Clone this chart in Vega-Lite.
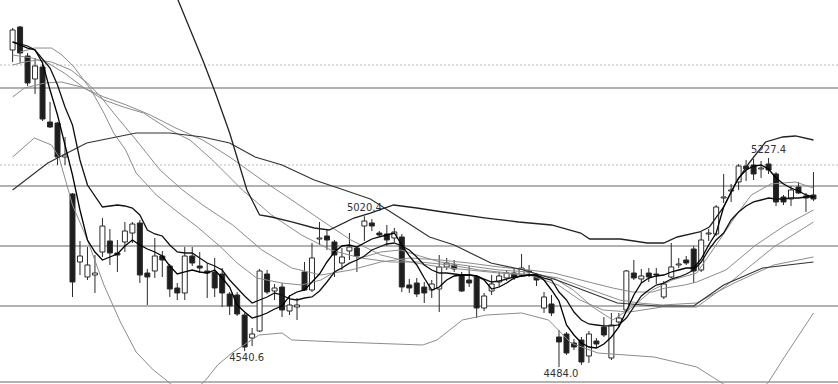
{
"$schema": "https://vega.github.io/schema/vega-lite/v6.json",
"width": 838, "height": 384, "padding": 0, "autosize": {"type": "none"},
"background": "white",
"config": {"view": {"stroke": null}},
"datasets": {
"grid": [{"p":5476.3},{"p":5127.8},{"p":4914.4},{"p":4701.0},{"p":4430.6}],
"dots": [{"p":5558.2},{"p":5202.5}],
"candles": [
{"i":0,"o":5611.6,"h":5689.8,"l":5568.9,"c":5682.7},
{"i":1,"o":5693.4,"h":5696.9,"l":5565.3,"c":5600.9},
{"i":2,"o":5590.2,"h":5600.9,"l":5483.5,"c":5494.2},
{"i":3,"o":5508.4,"h":5583.1,"l":5455.0,"c":5554.6},
{"i":4,"o":5551.1,"h":5561.8,"l":5359.0,"c":5366.1},
{"i":5,"o":5355.4,"h":5426.6,"l":5334.1,"c":5337.7},
{"i":6,"o":5351.9,"h":5355.4,"l":5202.5,"c":5231.0},
{"i":7,"o":5231.0,"h":5302.1,"l":5202.5,"c":5238.1},
{"i":8,"o":5099.3,"h":5102.9,"l":4733.0,"c":4786.3},
{"i":9,"o":4857.5,"h":4932.2,"l":4811.2,"c":4878.8},
{"i":10,"o":4804.1,"h":4910.8,"l":4793.4,"c":4846.8},
{"i":11,"o":4811.2,"h":4882.4,"l":4747.2,"c":4818.3},
{"i":12,"o":4893.0,"h":5014.0,"l":4875.3,"c":4985.5},
{"i":13,"o":4932.2,"h":4974.8,"l":4846.8,"c":4889.5},
{"i":14,"o":4889.5,"h":4935.7,"l":4821.9,"c":4882.4},
{"i":15,"o":4928.6,"h":4999.8,"l":4893.0,"c":4967.7},
{"i":16,"o":4960.6,"h":4999.8,"l":4925.0,"c":4992.6},
{"i":17,"o":4996.2,"h":5006.9,"l":4782.8,"c":4811.2},
{"i":18,"o":4818.3,"h":4832.6,"l":4704.5,"c":4804.1},
{"i":19,"o":4825.5,"h":4942.8,"l":4800.6,"c":4878.8},
{"i":20,"o":4878.8,"h":4896.6,"l":4804.1,"c":4864.6},
{"i":21,"o":4843.2,"h":4850.4,"l":4733.0,"c":4761.4},
{"i":22,"o":4765.0,"h":4782.8,"l":4722.3,"c":4747.2},
{"i":23,"o":4747.2,"h":4910.8,"l":4722.3,"c":4878.8},
{"i":24,"o":4878.8,"h":4910.8,"l":4843.2,"c":4853.9},
{"i":25,"o":4843.2,"h":4893.0,"l":4818.3,"c":4836.1},
{"i":26,"o":4825.5,"h":4853.9,"l":4729.4,"c":4818.3},
{"i":27,"o":4821.9,"h":4871.7,"l":4733.0,"c":4765.0},
{"i":28,"o":4814.8,"h":4836.1,"l":4697.4,"c":4747.2},
{"i":29,"o":4743.6,"h":4750.8,"l":4668.9,"c":4701.0},
{"i":30,"o":4740.1,"h":4750.8,"l":4665.4,"c":4672.5},
{"i":31,"o":4668.9,"h":4676.1,"l":4540.6,"c":4555.1},
{"i":32,"o":4587.1,"h":4622.7,"l":4558.7,"c":4601.4},
{"i":33,"o":4612.0,"h":4832.6,"l":4608.5,"c":4825.5},
{"i":34,"o":4814.8,"h":4829.0,"l":4743.6,"c":4750.8},
{"i":35,"o":4754.3,"h":4779.2,"l":4722.3,"c":4765.0},
{"i":36,"o":4768.5,"h":4782.8,"l":4661.8,"c":4686.7},
{"i":37,"o":4683.2,"h":4740.1,"l":4668.9,"c":4704.5},
{"i":38,"o":4697.4,"h":4729.4,"l":4651.2,"c":4704.5},
{"i":39,"o":4821.9,"h":4857.5,"l":4754.3,"c":4757.9},
{"i":40,"o":4757.9,"h":4925.0,"l":4750.8,"c":4871.7},
{"i":41,"o":4939.3,"h":4999.8,"l":4917.9,"c":4942.8},
{"i":42,"o":4950.0,"h":4971.3,"l":4900.1,"c":4935.7},
{"i":43,"o":4928.6,"h":4935.7,"l":4804.1,"c":4882.4},
{"i":44,"o":4853.9,"h":4907.3,"l":4829.0,"c":4875.3},
{"i":45,"o":4896.6,"h":4960.6,"l":4864.6,"c":4910.8},
{"i":46,"o":4907.3,"h":4914.4,"l":4821.9,"c":4878.8},
{"i":47,"o":4985.5,"h":5020.4,"l":4932.2,"c":5003.3},
{"i":48,"o":4996.2,"h":5010.4,"l":4967.7,"c":4985.5},
{"i":49,"o":4960.6,"h":4967.7,"l":4946.4,"c":4953.5},
{"i":50,"o":4957.1,"h":4989.1,"l":4914.4,"c":4935.7},
{"i":51,"o":4942.8,"h":4978.4,"l":4928.6,"c":4964.2},
{"i":52,"o":4946.4,"h":4957.1,"l":4750.8,"c":4768.5},
{"i":53,"o":4775.7,"h":4797.0,"l":4747.2,"c":4765.0},
{"i":54,"o":4782.8,"h":4800.6,"l":4733.0,"c":4743.6},
{"i":55,"o":4768.5,"h":4786.3,"l":4711.6,"c":4747.2},
{"i":56,"o":4757.9,"h":4793.4,"l":4729.4,"c":4779.2},
{"i":57,"o":4761.4,"h":4882.4,"l":4679.6,"c":4839.7},
{"i":58,"o":4839.7,"h":4871.7,"l":4829.0,"c":4853.9},
{"i":59,"o":4846.8,"h":4864.6,"l":4821.9,"c":4832.6},
{"i":60,"o":4811.2,"h":4821.9,"l":4750.8,"c":4754.3},
{"i":61,"o":4793.4,"h":4843.2,"l":4768.5,"c":4782.8},
{"i":62,"o":4804.1,"h":4811.2,"l":4658.3,"c":4693.8},
{"i":63,"o":4693.8,"h":4747.2,"l":4683.2,"c":4736.5},
{"i":64,"o":4754.3,"h":4811.2,"l":4740.1,"c":4779.2},
{"i":65,"o":4786.3,"h":4821.9,"l":4768.5,"c":4807.7},
{"i":66,"o":4800.6,"h":4829.0,"l":4789.9,"c":4818.3},
{"i":67,"o":4818.3,"h":4836.1,"l":4793.4,"c":4804.1},
{"i":68,"o":4811.2,"h":4885.9,"l":4804.1,"c":4836.1},
{"i":69,"o":4825.5,"h":4846.8,"l":4804.1,"c":4821.9},
{"i":70,"o":4807.7,"h":4818.3,"l":4772.1,"c":4793.4},
{"i":71,"o":4693.8,"h":4750.8,"l":4676.1,"c":4733.0},
{"i":72,"o":4708.1,"h":4740.1,"l":4665.4,"c":4676.1},
{"i":73,"o":4590.7,"h":4615.6,"l":4484.0,"c":4572.9},
{"i":74,"o":4601.4,"h":4608.5,"l":4526.7,"c":4533.8},
{"i":75,"o":4569.4,"h":4583.6,"l":4544.4,"c":4555.1},
{"i":76,"o":4580.0,"h":4590.7,"l":4491.1,"c":4501.8},
{"i":77,"o":4523.1,"h":4612.0,"l":4498.2,"c":4601.4},
{"i":78,"o":4576.5,"h":4587.1,"l":4551.6,"c":4565.8},
{"i":79,"o":4626.3,"h":4661.8,"l":4590.7,"c":4597.8},
{"i":80,"o":4516.0,"h":4676.1,"l":4508.9,"c":4633.4},
{"i":81,"o":4644.0,"h":4676.1,"l":4626.3,"c":4658.3},
{"i":82,"o":4686.7,"h":4829.0,"l":4679.6,"c":4825.5},
{"i":83,"o":4818.3,"h":4864.6,"l":4793.4,"c":4800.6},
{"i":84,"o":4797.0,"h":4832.6,"l":4782.8,"c":4807.7},
{"i":85,"o":4818.3,"h":4836.1,"l":4786.3,"c":4804.1},
{"i":86,"o":4814.8,"h":4836.1,"l":4779.2,"c":4811.2},
{"i":87,"o":4733.0,"h":4789.9,"l":4725.9,"c":4779.2},
{"i":88,"o":4804.1,"h":4925.0,"l":4800.6,"c":4839.7},
{"i":89,"o":4846.8,"h":4871.7,"l":4836.1,"c":4850.4},
{"i":90,"o":4864.6,"h":4878.8,"l":4846.8,"c":4853.9},
{"i":91,"o":4903.7,"h":4914.4,"l":4782.8,"c":4825.5},
{"i":92,"o":4829.0,"h":4964.2,"l":4821.9,"c":4935.7},
{"i":93,"o":4957.1,"h":4974.8,"l":4932.2,"c":4960.6},
{"i":94,"o":4957.1,"h":5060.2,"l":4950.0,"c":5053.1},
{"i":95,"o":5085.1,"h":5170.5,"l":5067.3,"c":5088.7},
{"i":96,"o":5110.0,"h":5134.9,"l":5070.9,"c":5113.6},
{"i":97,"o":5142.0,"h":5206.1,"l":5113.6,"c":5198.9},
{"i":98,"o":5198.9,"h":5220.3,"l":5145.6,"c":5188.3},
{"i":99,"o":5202.5,"h":5223.8,"l":5149.1,"c":5170.5},
{"i":100,"o":5188.3,"h":5216.7,"l":5156.3,"c":5191.8},
{"i":101,"o":5206.1,"h":5227.4,"l":5170.5,"c":5184.7},
{"i":102,"o":5170.5,"h":5177.6,"l":5056.7,"c":5070.9},
{"i":103,"o":5088.7,"h":5095.8,"l":5060.2,"c":5070.9},
{"i":104,"o":5081.6,"h":5127.8,"l":5056.7,"c":5113.6},
{"i":105,"o":5124.2,"h":5142.0,"l":5099.3,"c":5102.9},
{"i":106,"o":5092.2,"h":5102.9,"l":5035.3,"c":5085.1},
{"i":107,"o":5095.8,"h":5177.6,"l":5074.5,"c":5081.6}
],
"ma5": [
{"i":0,"v":5640.0},{"i":1,"v":5629.3},{"i":2,"v":5618.6},{"i":3,"v":5611.6},{"i":4,"v":5565.3},{"i":5,"v":5469.3},{"i":6,"v":5380.3},{"i":7,"v":5273.6},{"i":8,"v":5166.9},{"i":9,"v":5042.4},
{"i":10,"v":4935.7},{"i":11,"v":4893.1},{"i":12,"v":4864.6},{"i":13,"v":4875.3},{"i":14,"v":4886.0},{"i":15,"v":4914.4},{"i":16,"v":4935.7},{"i":17,"v":4917.9},{"i":18,"v":4903.7},{"i":19,"v":4893.1},
{"i":20,"v":4878.9},{"i":21,"v":4843.3},{"i":22,"v":4814.8},{"i":23,"v":4821.9},{"i":24,"v":4829.0},{"i":25,"v":4821.9},{"i":26,"v":4818.3},{"i":27,"v":4829.0},{"i":28,"v":4800.5},{"i":29,"v":4768.5},
{"i":30,"v":4704.5},{"i":31,"v":4679.6},{"i":32,"v":4658.2},{"i":33,"v":4665.4},{"i":34,"v":4676.0},{"i":35,"v":4690.3},{"i":36,"v":4701.0},{"i":37,"v":4736.6},{"i":38,"v":4750.8},{"i":39,"v":4757.9},
{"i":40,"v":4786.3},{"i":41,"v":4814.8},{"i":42,"v":4857.5},{"i":43,"v":4893.1},{"i":44,"v":4914.4},{"i":45,"v":4917.9},{"i":46,"v":4910.8},{"i":47,"v":4925.0},{"i":48,"v":4939.3},{"i":49,"v":4946.4},
{"i":50,"v":4953.5},{"i":51,"v":4960.6},{"i":52,"v":4917.9},{"i":53,"v":4878.9},{"i":54,"v":4846.8},{"i":55,"v":4800.5},{"i":56,"v":4757.9},{"i":57,"v":4768.5},{"i":58,"v":4793.4},{"i":59,"v":4807.7},
{"i":60,"v":4811.2},{"i":61,"v":4811.2},{"i":62,"v":4807.7},{"i":63,"v":4793.4},{"i":64,"v":4761.4},{"i":65,"v":4768.5},{"i":66,"v":4782.7},{"i":67,"v":4800.5},{"i":68,"v":4807.7},{"i":69,"v":4811.2},
{"i":70,"v":4811.2},{"i":71,"v":4793.4},{"i":72,"v":4757.9},{"i":73,"v":4718.7},{"i":74,"v":4633.4},{"i":75,"v":4597.8},{"i":76,"v":4569.3},{"i":77,"v":4555.1},{"i":78,"v":4551.5},{"i":79,"v":4565.8},
{"i":80,"v":4590.7},{"i":81,"v":4626.3},{"i":82,"v":4683.1},{"i":83,"v":4740.1},{"i":84,"v":4782.7},{"i":85,"v":4800.5},{"i":86,"v":4807.7},{"i":87,"v":4811.2},{"i":88,"v":4821.9},{"i":89,"v":4829.0},
{"i":90,"v":4836.1},{"i":91,"v":4836.1},{"i":92,"v":4868.1},{"i":93,"v":4917.9},{"i":94,"v":4960.6},{"i":95,"v":5053.1},{"i":96,"v":5106.5},{"i":97,"v":5156.3},{"i":98,"v":5184.7},{"i":99,"v":5198.9},
{"i":100,"v":5202.5},{"i":101,"v":5188.3},{"i":102,"v":5156.3},{"i":103,"v":5134.9},{"i":104,"v":5120.6},{"i":105,"v":5110.0},{"i":106,"v":5095.8},{"i":107,"v":5088.7}
],
"ma10": [
{"i":0,"v":5640.0},{"i":2,"v":5625.8},{"i":3,"v":5611.6},{"i":5,"v":5547.5},{"i":6,"v":5487.0},{"i":7,"v":5408.8},{"i":8,"v":5344.8},{"i":9,"v":5220.3},
{"i":10,"v":5131.3},{"i":12,"v":5053.1},{"i":13,"v":5056.7},{"i":14,"v":5060.2},{"i":15,"v":5056.7},{"i":16,"v":5049.5},{"i":17,"v":5024.6},{"i":18,"v":4971.3},{"i":19,"v":4957.1},
{"i":20,"v":4950.0},{"i":21,"v":4917.9},{"i":22,"v":4893.1},{"i":23,"v":4889.5},{"i":24,"v":4889.5},{"i":25,"v":4871.7},{"i":26,"v":4853.9},{"i":27,"v":4843.3},{"i":28,"v":4829.0},{"i":29,"v":4793.4},
{"i":30,"v":4764.9},{"i":31,"v":4736.6},{"i":32,"v":4711.6},{"i":33,"v":4722.3},{"i":34,"v":4733.0},{"i":35,"v":4747.2},{"i":36,"v":4740.1},{"i":37,"v":4725.9},{"i":38,"v":4722.3},{"i":39,"v":4729.4},
{"i":40,"v":4733.0},{"i":41,"v":4754.3},{"i":42,"v":4786.3},{"i":43,"v":4821.9},{"i":44,"v":4836.1},{"i":45,"v":4853.9},{"i":46,"v":4864.6},{"i":47,"v":4878.9},{"i":48,"v":4900.2},{"i":49,"v":4910.8},
{"i":50,"v":4921.5},{"i":51,"v":4925.0},{"i":52,"v":4914.4},{"i":53,"v":4900.2},{"i":54,"v":4875.3},{"i":55,"v":4846.8},{"i":56,"v":4829.0},{"i":57,"v":4818.3},{"i":58,"v":4818.3},{"i":59,"v":4814.8},
{"i":60,"v":4811.2},{"i":61,"v":4811.2},{"i":62,"v":4807.7},{"i":63,"v":4796.9},{"i":64,"v":4786.3},{"i":65,"v":4789.9},{"i":66,"v":4796.9},{"i":67,"v":4804.1},{"i":68,"v":4807.7},{"i":69,"v":4811.2},
{"i":70,"v":4811.2},{"i":71,"v":4800.5},{"i":72,"v":4793.4},{"i":73,"v":4750.8},{"i":74,"v":4722.3},{"i":75,"v":4679.6},{"i":76,"v":4651.2},{"i":77,"v":4637.0},{"i":78,"v":4633.4},{"i":79,"v":4629.9},
{"i":80,"v":4629.9},{"i":81,"v":4633.4},{"i":82,"v":4658.2},{"i":83,"v":4697.4},{"i":84,"v":4736.6},{"i":85,"v":4757.9},{"i":86,"v":4775.6},{"i":87,"v":4782.7},{"i":88,"v":4796.9},{"i":89,"v":4804.1},
{"i":90,"v":4814.8},{"i":91,"v":4829.0},{"i":92,"v":4857.5},{"i":93,"v":4900.2},{"i":94,"v":4935.7},{"i":95,"v":4960.6},{"i":96,"v":5006.9},{"i":97,"v":5035.3},{"i":98,"v":5056.7},{"i":99,"v":5071.0},
{"i":100,"v":5078.0},{"i":101,"v":5085.1},{"i":102,"v":5081.6},{"i":103,"v":5081.6},{"i":104,"v":5085.1},{"i":105,"v":5085.1},{"i":106,"v":5088.7},{"i":107,"v":5088.7}
],
"long": [
{"i":0,"v":5113.6},{"i":4.7,"v":5209.6},{"i":9.9,"v":5280.7},{"i":16.5,"v":5316.3},{"i":21,"v":5316.3},{"i":25.4,"v":5302.1},{"i":29,"v":5280.7},{"i":32.4,"v":5231.0},{"i":36,"v":5202.5},{"i":40.3,"v":5149.1},
{"i":43.5,"v":5120.6},{"i":47.8,"v":5081.6},{"i":52.2,"v":5006.9},{"i":55.7,"v":4946.4},{"i":59,"v":4917.9},{"i":63.9,"v":4853.9},{"i":68.3,"v":4829.0},{"i":72.7,"v":4793.4},{"i":76.9,"v":4750.8},{"i":80.8,"v":4711.6},
{"i":86.1,"v":4701.0},{"i":91,"v":4701.0},{"i":95,"v":4775.6},{"i":100.2,"v":4836.1},{"i":107,"v":4857.5}
],
"upper": [
{"i":20,"v":5924.6},{"i":22.1,"v":5789.4},{"i":25.4,"v":5576.0},{"i":27.1,"v":5458.6},{"i":29,"v":5316.3},{"i":30.7,"v":5166.9},{"i":31.3,"v":5113.6},{"i":33,"v":5024.6},{"i":34.6,"v":5017.5},{"i":37.3,"v":4999.8},
{"i":40.3,"v":4978.4},{"i":42.3,"v":4971.3},{"i":45.6,"v":5013.9},{"i":47.8,"v":5031.7},{"i":50.9,"v":5060.2},{"i":54,"v":5049.5},{"i":57.5,"v":5035.3},{"i":63.3,"v":5013.9},{"i":67.6,"v":4999.8},{"i":72,"v":4989.1},
{"i":75.9,"v":4960.6},{"i":77.1,"v":4939.3},{"i":81.2,"v":4939.3},{"i":84.8,"v":4925.0},{"i":87,"v":4925.0},{"i":88.8,"v":4946.4},{"i":91.8,"v":4964.2},{"i":93.1,"v":4982.0},{"i":95,"v":5053.1},{"i":96.7,"v":5142.0},
{"i":98.4,"v":5209.6},{"i":100.6,"v":5284.3},{"i":102.9,"v":5302.1},{"i":104.6,"v":5305.7},{"i":107,"v":5291.4}
],
"lower": [
{"i":0,"v":5231.0},{"i":2.9,"v":5298.5},{"i":5.2,"v":5273.6},{"i":6.2,"v":5231.0},{"i":8,"v":5060.2},{"i":10,"v":4935.7},{"i":12.2,"v":4775.6},{"i":14.4,"v":4644.1},{"i":16.5,"v":4537.3},{"i":18.8,"v":4473.3},
{"i":20.5,"v":4437.7},{"i":22.1,"v":4402.2},{"i":24.1,"v":4395.1},{"i":25.8,"v":4437.7},{"i":27.4,"v":4491.1},{"i":29.3,"v":4533.7},{"i":32.9,"v":4597.8},{"i":36,"v":4604.9},{"i":37.3,"v":4580.0},{"i":43.5,"v":4572.9},
{"i":54.8,"v":4562.2},{"i":56.7,"v":4580.0},{"i":60.1,"v":4651.2},{"i":63.3,"v":4668.9},{"i":68,"v":4676.0},{"i":71.6,"v":4651.2},{"i":74.6,"v":4569.3},{"i":78.2,"v":4533.7},{"i":85.7,"v":4519.5},{"i":91.4,"v":4484.0},
{"i":95,"v":4423.5},{"i":98,"v":4366.6},{"i":99.3,"v":4384.4},{"i":101,"v":4430.6},{"i":103.3,"v":4526.6},{"i":107,"v":4676.0}
],
"g1": [
{"i":1,"v":5604.5},{"i":2.9,"v":5618.6},{"i":5.2,"v":5618.6},{"i":6.6,"v":5593.8},{"i":8.2,"v":5551.1},{"i":10.5,"v":5469.3},{"i":12.2,"v":5387.4},{"i":13.5,"v":5316.3},{"i":15.1,"v":5255.9},{"i":16.5,"v":5174.0},
{"i":19.2,"v":5095.8},{"i":21.7,"v":5042.4},{"i":24.7,"v":4982.0},{"i":27.8,"v":4910.8},{"i":30,"v":4853.9},{"i":32.6,"v":4800.5},{"i":36,"v":4782.7},{"i":38.6,"v":4775.6},{"i":41.2,"v":4793.4},{"i":43.9,"v":4836.1},
{"i":46.5,"v":4871.7},{"i":49.2,"v":4893.1},{"i":51.8,"v":4900.2},{"i":54.4,"v":4878.9},{"i":57.1,"v":4857.5},{"i":61,"v":4843.3},{"i":65,"v":4829.0},{"i":69,"v":4821.9},{"i":72.3,"v":4800.5},{"i":74.9,"v":4757.9},
{"i":77.5,"v":4697.4},{"i":80.2,"v":4651.2},{"i":82.8,"v":4697.4},{"i":85.5,"v":4757.9},{"i":88.1,"v":4793.4},{"i":91.4,"v":4818.3},{"i":94,"v":4917.9},{"i":96.7,"v":5024.6},{"i":98.7,"v":5095.8},{"i":101.3,"v":5134.9},
{"i":104.6,"v":5142.0},{"i":107,"v":5120.6}
],
"g2": [
{"i":0,"v":5558.2},{"i":1.6,"v":5568.9},{"i":3.3,"v":5576.0},{"i":5.2,"v":5568.9},{"i":7.8,"v":5540.4},{"i":10,"v":5494.1},{"i":11.8,"v":5444.4},{"i":13.5,"v":5387.4},{"i":16.5,"v":5291.4},{"i":19.7,"v":5184.7},
{"i":22.7,"v":5113.6},{"i":25.4,"v":5060.2},{"i":29.4,"v":4989.1},{"i":33.3,"v":4900.2},{"i":37.3,"v":4836.1},{"i":41.2,"v":4811.2},{"i":45.2,"v":4829.0},{"i":49.2,"v":4857.5},{"i":53.1,"v":4871.7},{"i":57.1,"v":4864.6},
{"i":61,"v":4853.9},{"i":65,"v":4839.7},{"i":69,"v":4829.0},{"i":72.3,"v":4818.3},{"i":74.9,"v":4800.5},{"i":77.5,"v":4782.7},{"i":80.2,"v":4764.9},{"i":82.8,"v":4750.8},{"i":85.5,"v":4750.8},{"i":87.2,"v":4764.9},
{"i":89.8,"v":4775.6},{"i":91.4,"v":4786.3},{"i":95.3,"v":4829.0},{"i":99.3,"v":4917.9},{"i":103.3,"v":4989.1},{"i":107,"v":5042.4}
],
"g3": [
{"i":0,"v":5593.8},{"i":2.6,"v":5583.1},{"i":4.7,"v":5565.3},{"i":6.9,"v":5529.7},{"i":9.4,"v":5479.9},{"i":12.2,"v":5433.7},{"i":14.8,"v":5408.8},{"i":17.5,"v":5387.4},{"i":21,"v":5327.0},{"i":23.7,"v":5291.4},
{"i":26.7,"v":5220.3},{"i":30.7,"v":5113.6},{"i":34.6,"v":5024.6},{"i":38.6,"v":4953.5},{"i":42.5,"v":4900.2},{"i":46.5,"v":4871.7},{"i":50.5,"v":4857.5},{"i":54.4,"v":4857.5},{"i":58.4,"v":4846.8},{"i":62.4,"v":4829.0},
{"i":66.3,"v":4818.3},{"i":70.3,"v":4811.2},{"i":72.9,"v":4800.5},{"i":76.6,"v":4764.9},{"i":81.1,"v":4722.3},{"i":83.7,"v":4711.6},{"i":86.8,"v":4704.5},{"i":91.4,"v":4711.6},{"i":96.4,"v":4782.7},{"i":101.7,"v":4846.8},
{"i":107,"v":4875.3}
],
"g4": [
{"i":0,"v":5444.4},{"i":1.6,"v":5476.3},{"i":4.3,"v":5494.1},{"i":6.5,"v":5497.7},{"i":9.2,"v":5479.9},{"i":12.2,"v":5444.4},{"i":15.2,"v":5415.9},{"i":18.4,"v":5380.3},{"i":21.8,"v":5334.1},{"i":25.4,"v":5291.4},
{"i":29,"v":5231.0},{"i":33.3,"v":5149.1},{"i":37.3,"v":5078.0},{"i":41.2,"v":5006.9},{"i":45.2,"v":4935.7},{"i":49.2,"v":4882.4},{"i":53.1,"v":4857.5},{"i":57.1,"v":4839.7},{"i":61,"v":4829.0},{"i":65,"v":4818.3},
{"i":69,"v":4811.2},{"i":72.9,"v":4775.6},{"i":75.8,"v":4722.3},{"i":78.9,"v":4686.7},{"i":82.4,"v":4679.6},{"i":86.8,"v":4697.4},{"i":91.4,"v":4697.4},{"i":95.1,"v":4768.5},{"i":101.7,"v":4910.8},{"i":107,"v":4999.8}
],
"labels": [
{"i":31,"p":4540.6,"t":"4540.6","k":"low"},
{"i":47,"p":5020.4,"t":"5020.4","k":"high"},
{"i":73,"p":4484.0,"t":"4484.0","k":"low"},
{"i":101,"p":5227.4,"t":"5227.4","k":"high"}
]
},
"layer": [
{"data": {"name": "dots"}, "mark": {"type": "rule", "color": "#bbbbbb", "strokeDash": [2, 2], "strokeWidth": 1},
 "encoding": {"y": {"field": "p", "type": "quantitative", "scale": {"domain": [4423.5, 5789.4], "nice": false, "zero": false}, "axis": null}}},
{"data": {"name": "grid"}, "mark": {"type": "rule", "color": "#666666", "strokeWidth": 1.2},
 "encoding": {"y": {"field": "p", "type": "quantitative", "scale": {"domain": [4423.5, 5789.4], "nice": false, "zero": false}, "axis": null}}},
{"data": {"name": "candles"}, "mark": {"type": "rule", "color": "#2a2a2a", "strokeWidth": 1, "clip": true},
 "encoding": {"x": {"field": "i", "type": "quantitative", "scale": {"domain": [-1.0165, 109.61], "nice": false, "zero": false}, "axis": null},
  "y": {"field": "l", "type": "quantitative", "scale": {"domain": [4423.5, 5789.4], "nice": false, "zero": false}, "axis": null},
  "y2": {"field": "h"}}},
{"data": {"name": "candles"}, "mark": {"type": "bar", "width": 5, "stroke": "#2a2a2a", "strokeWidth": 1, "clip": true},
 "encoding": {"x": {"field": "i", "type": "quantitative", "scale": {"domain": [-1.0165, 109.61], "nice": false, "zero": false}, "axis": null},
  "y": {"field": "o", "type": "quantitative", "scale": {"domain": [4423.5, 5789.4], "nice": false, "zero": false}, "axis": null},
  "y2": {"field": "c"},
  "color": {"condition": {"test": "datum.c >= datum.o", "value": "#ffffff"}, "value": "#1e1e1e"}}},
{"data": {"name": "g4"}, "mark": {"type": "line", "color": "#8c8c8c", "strokeWidth": 1, "clip": true},
 "encoding": {"x": {"field": "i", "type": "quantitative", "scale": {"domain": [-1.0165, 109.61], "nice": false, "zero": false}, "axis": null},
  "y": {"field": "v", "type": "quantitative", "scale": {"domain": [4423.5, 5789.4], "nice": false, "zero": false}, "axis": null}}},
{"data": {"name": "g3"}, "mark": {"type": "line", "color": "#8c8c8c", "strokeWidth": 1, "clip": true},
 "encoding": {"x": {"field": "i", "type": "quantitative", "scale": {"domain": [-1.0165, 109.61], "nice": false, "zero": false}, "axis": null},
  "y": {"field": "v", "type": "quantitative", "scale": {"domain": [4423.5, 5789.4], "nice": false, "zero": false}, "axis": null}}},
{"data": {"name": "g2"}, "mark": {"type": "line", "color": "#8c8c8c", "strokeWidth": 1, "clip": true},
 "encoding": {"x": {"field": "i", "type": "quantitative", "scale": {"domain": [-1.0165, 109.61], "nice": false, "zero": false}, "axis": null},
  "y": {"field": "v", "type": "quantitative", "scale": {"domain": [4423.5, 5789.4], "nice": false, "zero": false}, "axis": null}}},
{"data": {"name": "g1"}, "mark": {"type": "line", "color": "#8c8c8c", "strokeWidth": 1, "clip": true},
 "encoding": {"x": {"field": "i", "type": "quantitative", "scale": {"domain": [-1.0165, 109.61], "nice": false, "zero": false}, "axis": null},
  "y": {"field": "v", "type": "quantitative", "scale": {"domain": [4423.5, 5789.4], "nice": false, "zero": false}, "axis": null}}},
{"data": {"name": "lower"}, "mark": {"type": "line", "color": "#8c8c8c", "strokeWidth": 1, "clip": true},
 "encoding": {"x": {"field": "i", "type": "quantitative", "scale": {"domain": [-1.0165, 109.61], "nice": false, "zero": false}, "axis": null},
  "y": {"field": "v", "type": "quantitative", "scale": {"domain": [4423.5, 5789.4], "nice": false, "zero": false}, "axis": null}}},
{"data": {"name": "long"}, "mark": {"type": "line", "color": "#333333", "strokeWidth": 1.2, "clip": true},
 "encoding": {"x": {"field": "i", "type": "quantitative", "scale": {"domain": [-1.0165, 109.61], "nice": false, "zero": false}, "axis": null},
  "y": {"field": "v", "type": "quantitative", "scale": {"domain": [4423.5, 5789.4], "nice": false, "zero": false}, "axis": null}}},
{"data": {"name": "upper"}, "mark": {"type": "line", "color": "#222222", "strokeWidth": 1.3, "clip": true},
 "encoding": {"x": {"field": "i", "type": "quantitative", "scale": {"domain": [-1.0165, 109.61], "nice": false, "zero": false}, "axis": null},
  "y": {"field": "v", "type": "quantitative", "scale": {"domain": [4423.5, 5789.4], "nice": false, "zero": false}, "axis": null}}},
{"data": {"name": "ma10"}, "mark": {"type": "line", "color": "#111111", "strokeWidth": 1.3, "clip": true},
 "encoding": {"x": {"field": "i", "type": "quantitative", "scale": {"domain": [-1.0165, 109.61], "nice": false, "zero": false}, "axis": null},
  "y": {"field": "v", "type": "quantitative", "scale": {"domain": [4423.5, 5789.4], "nice": false, "zero": false}, "axis": null}}},
{"data": {"name": "ma5"}, "mark": {"type": "line", "color": "#000000", "strokeWidth": 1.3, "clip": true},
 "encoding": {"x": {"field": "i", "type": "quantitative", "scale": {"domain": [-1.0165, 109.61], "nice": false, "zero": false}, "axis": null},
  "y": {"field": "v", "type": "quantitative", "scale": {"domain": [4423.5, 5789.4], "nice": false, "zero": false}, "axis": null}}},
{"data": {"name": "labels"}, "transform": [{"filter": "datum.k == 'high'"}],
 "mark": {"type": "text", "font": "DejaVu Sans", "fontSize": 10, "color": "#333333", "baseline": "bottom", "dy": -3},
 "encoding": {"x": {"field": "i", "type": "quantitative", "scale": {"domain": [-1.0165, 109.61], "nice": false, "zero": false}, "axis": null},
  "y": {"field": "p", "type": "quantitative", "scale": {"domain": [4423.5, 5789.4], "nice": false, "zero": false}, "axis": null},
  "text": {"field": "t"}}},
{"data": {"name": "labels"}, "transform": [{"filter": "datum.k == 'low'"}],
 "mark": {"type": "text", "font": "DejaVu Sans", "fontSize": 10, "color": "#333333", "baseline": "top", "dy": 2, "dx": 2},
 "encoding": {"x": {"field": "i", "type": "quantitative", "scale": {"domain": [-1.0165, 109.61], "nice": false, "zero": false}, "axis": null},
  "y": {"field": "p", "type": "quantitative", "scale": {"domain": [4423.5, 5789.4], "nice": false, "zero": false}, "axis": null},
  "text": {"field": "t"}}}
]
}
